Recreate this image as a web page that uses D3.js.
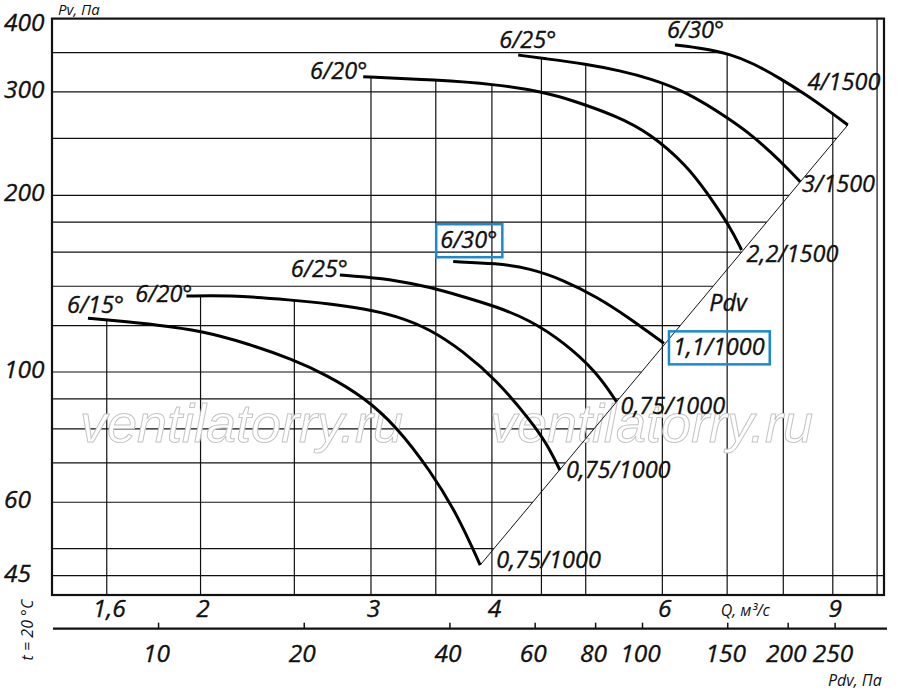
<!DOCTYPE html>
<html><head><meta charset="utf-8">
<script src="https://cdn.jsdelivr.net/npm/d3@7"></script>
<style>
html,body{margin:0;padding:0;background:#fff;}
svg{display:block;}
text{font-family:"Open Sans",sans-serif;font-style:italic;fill:#111;}
text.lbl{stroke:#111;stroke-width:0.35px;}
</style></head><body>
<svg id="chart" width="900" height="694"></svg>
<script>
// ---------- data ----------
const qDomain = [1.4046, 10.166];          // Q, m3/s (log axis)
const pDomain = [41.7, 400];               // Pv, Pa (log axis)
const yTickValues = [400, 300, 200, 100, 60, 45];
const yGridValues = [45, 50, 60, 70, 80, 90, 100, 120, 140, 160, 180, 200, 250, 300, 350];
const qTickValues = [1.6, 2, 3, 4, 6, 9];
const qGridValues = [1.6, 2, 2.5, 3, 3.5, 4, 4.5, 5, 6, 7, 8, 9, 10];
const pdvTickValues = [10, 20, 40, 60, 80, 100, 150, 200, 250];
const pdvCoef = 3.06;                      // Pdv = k * Q^2 for the lower Pdv axis

// 1000 rpm curves
const q615 = [1.53, 1.605, 1.815, 1.997, 2.231, 2.493, 2.70, 2.945, 3.19, 3.45, 3.68, 3.89];
const p615 = [123.5, 122.6, 120.2, 117.6, 112.0, 105.0, 98.8, 90.8, 80.7, 68.1, 57.4, 46.9];
const q620a = [1.934, 2.127, 2.493, 2.72, 2.945, 3.19, 3.45, 3.736, 4.045, 4.378, 4.556, 4.702];
const p620a = [134.7, 135.3, 132.6, 130.6, 128.3, 124.6, 118.4, 108.5, 96.8, 82.9, 75.6, 68.1];
const q625a = [2.786, 2.945, 3.19, 3.45, 3.736, 4.045, 4.378, 4.74, 5.13, 5.38];
const p625a = [146.3, 145.3, 143.2, 139.6, 134.4, 129.2, 122.6, 112.6, 100.1, 89.0];
const q630a = [3.648, 4.045, 4.378, 4.74, 5.13, 5.554, 5.785, 6.023];
const p630a = [154.2, 153.2, 150.2, 143.5, 134.4, 123.4, 117.4, 111.9];
// 1500 rpm curves
const q620b = [2.945, 3.507, 4.012, 4.519, 4.869, 5.38, 5.826, 6.357, 6.667, 7.048, 7.245];
const p620b = [318.5, 314.4, 309.5, 300.2, 289.5, 273.0, 255.1, 225.0, 202.5, 176.8, 161.4];
const q625b = [4.258, 4.519, 5.011, 5.425, 5.826, 6.357, 7.048, 7.448, 7.751, 8.066, 8.326];
const p625b = [346.7, 342.2, 334.6, 326.1, 316.4, 300.2, 269.5, 252.0, 237.5, 223.0, 211.0];
const q630b = [6.183, 6.613, 7.048, 7.448, 7.939, 8.457, 8.941, 9.327];
const p630b = [360.6, 355.9, 348.1, 335.7, 316.4, 296.4, 277.6, 263.5];

const angleLabels = ["6/15°", "6/20°", "6/25°", "6/30°", "6/20°", "6/25°", "6/30°"];
const powerLabels = ["0,75/1000", "0,75/1000", "0,75/1000", "1,1/1000", "2,2/1500", "3/1500", "4/1500"];

// Pdv (system) line end points
const pdvLineQ = [3.89, 9.327];
const pdvLineP = [46.9, 263.5];

// ---------- layout / styles (not data) ----------
const startLabelLayout = [
  {anchor: "start", dx: -21, dy: -5},
  {anchor: "end", dx: 6, dy: 6},
  {anchor: "end", dx: 8, dy: 2},
  {anchor: "start", dx: -13, dy: -13.4, boxed: true},
  {anchor: "end", dx: 4, dy: 2},
  {anchor: "start", dx: -19, dy: -6.7},
  {anchor: "start", dx: -8, dy: -7.3}
];
const endLabelLayout = [
  {dx: 16, dy: 3}, {dx: 6, dy: 8}, {dx: 4, dy: 12}, {dx: 9, dy: 12, boxed: true},
  {dx: 5, dy: 12}, {dx: 2, dy: 10}, {dx: -40.4, dy: -35}
];
const BLUE = "#1a8ad4";

const curveQ = [q615, q620a, q625a, q630a, q620b, q625b, q630b];
const curveP = [p615, p620a, p625a, p630a, p620b, p625b, p630b];
const curves = curveQ.map((q, i) => ({q, p: curveP[i], angle: angleLabels[i], power: powerLabels[i]}));

// ---------- scales ----------
const svg = d3.select("#chart");
const x = d3.scaleLog().domain(qDomain).range([52, 884]);
const y = d3.scaleLog().domain(pDomain).range([595, 18.6]);
const xPdv = d3.scaleLog()
  .domain([pdvCoef * qDomain[0] * qDomain[0], pdvCoef * qDomain[1] * qDomain[1]])
  .range([52, 884]);
const fmt = d => String(d).replace(".", ",");

// helpers (log-log interpolation)
function interp(qs, ps, q) {
  for (let i = 0; i < qs.length - 1; i++) {
    if (q >= qs[i] && q <= qs[i + 1]) {
      const t = (Math.log(q) - Math.log(qs[i])) / (Math.log(qs[i + 1]) - Math.log(qs[i]));
      return Math.exp(Math.log(ps[i]) + t * (Math.log(ps[i + 1]) - Math.log(ps[i])));
    }
  }
  return null;
}
function cross(qs, ps, p) {
  let best = null;
  for (let i = 0; i < qs.length - 1; i++) {
    const a = ps[i], b = ps[i + 1];
    if ((p - a) * (p - b) <= 0 && a !== b) {
      const t = (Math.log(p) - Math.log(a)) / (Math.log(b) - Math.log(a));
      const q = Math.exp(Math.log(qs[i]) + t * (Math.log(qs[i + 1]) - Math.log(qs[i])));
      if (best === null || q > best) best = q;
    }
  }
  return best;
}
function envelopeP(q) {
  let best = null;
  curves.forEach(c => { const v = interp(c.q, c.p, q); if (v !== null && (best === null || v > best)) best = v; });
  return best;
}
function hEnd(p) {
  if (p < pdvLineP[0]) return x.range()[1];
  if (p <= pdvLineP[1]) return x(cross(pdvLineQ, pdvLineP, p));
  let best = null;
  curves.forEach(c => { const v = cross(c.q, c.p, p); if (v !== null && (best === null || v > best)) best = v; });
  return best === null ? x.range()[1] : x(best);
}

// ---------- grid ----------
const gGrid = svg.append("g").attr("stroke", "#111").attr("stroke-width", 1.2).attr("fill", "none");
gGrid.selectAll("line.v").data(qGridValues).join("line").attr("class", "v")
  .attr("x1", d => x(d)).attr("x2", d => x(d))
  .attr("y1", d => { const pe = envelopeP(d); return pe === null ? y(pDomain[1]) : y(pe); })
  .attr("y2", y(pDomain[0]));
gGrid.selectAll("line.h").data(yGridValues).join("line").attr("class", "h")
  .attr("x1", x.range()[0]).attr("x2", d => hEnd(d))
  .attr("y1", d => y(d)).attr("y2", d => y(d));

// ---------- watermark ----------
svg.selectAll("text.wm").data([80, 490]).join("text").attr("class", "wm")
  .attr("x", d => d).attr("y", 442)
  .style("font-family", "'Liberation Sans', Arial, sans-serif").style("font-size", "54px")
  .style("fill", "#fff").attr("stroke", "#c4c4c4").attr("stroke-width", 1)
  .text("ventilatorry.ru");

// ---------- frame ----------
svg.append("rect").attr("x", 52).attr("y", y(pDomain[1]))
  .attr("width", 884 - 52).attr("height", 595 - y(pDomain[1]))
  .attr("fill", "none").attr("stroke", "#111").attr("stroke-width", 2.2);

// ---------- Pdv diagonal ----------
svg.append("line")
  .attr("x1", x(pdvLineQ[0])).attr("y1", y(pdvLineP[0]))
  .attr("x2", x(pdvLineQ[1])).attr("y2", y(pdvLineP[1]))
  .attr("stroke", "#111").attr("stroke-width", 1);

// ---------- curves ----------
const line = d3.line().x(d => d[0]).y(d => d[1]).curve(d3.curveBasis);
svg.append("g").selectAll("path").data(curves).join("path")
  .attr("d", c => line(c.q.map((q, i) => [x(q), y(c.p[i])])))
  .attr("fill", "none").attr("stroke", "#000").attr("stroke-width", 3);

// ---------- curve labels ----------
const LBL = "23.5px";
function addLabel(px, py, txt, anchor, boxed) {
  const t = svg.append("text").attr("class", "lbl").attr("x", px).attr("y", py).attr("text-anchor", anchor)
    .style("font-size", LBL).text(txt);
  if (boxed) {
    const b = t.node().getBBox();
    svg.append("rect").attr("x", b.x - 4).attr("y", b.y + 1).attr("width", b.width + 9).attr("height", b.height + 1)
      .attr("fill", "none").attr("stroke", BLUE).attr("stroke-width", 2.5);
  }
}
curves.forEach((c, i) => {
  const sx = x(c.q[0]), sy = y(c.p[0]);
  const L = startLabelLayout[i];
  addLabel(sx + L.dx, sy + L.dy, c.angle, L.anchor, L.boxed);
  const n = c.q.length - 1;
  const ex = x(c.q[n]), ey = y(c.p[n]);
  const E = endLabelLayout[i];
  addLabel(ex + E.dx, ey + E.dy, c.power, "start", E.boxed);
});
// Pdv label beside diagonal
{
  const pLab = 132.6, qLab = cross(pdvLineQ, pdvLineP, pLab);
  svg.append("text").attr("class", "lbl").attr("x", x(qLab) + 7.7).attr("y", y(pLab) + 10.7)
    .style("font-size", LBL).text("Pdv");
}

// ---------- axes ----------
const TICK = "24.5px";
// Y tick labels
svg.append("g").selectAll("text").data(yTickValues).join("text").attr("class", "lbl")
  .attr("x", 4).attr("y", d => Math.max(y(d) + 6, 31)).style("font-size", TICK).text(d => d);
svg.append("text").attr("x", 58).attr("y", 15).style("font-size", "15px").text("Pv, Па");

// Q axis labels
const qAxis = d3.axisBottom(x).tickValues(qTickValues).tickFormat(fmt).tickSize(0).tickPadding(0);
const gq = svg.append("g").attr("transform", "translate(2,595)").call(qAxis);
gq.select(".domain").remove();
gq.selectAll("text").attr("class", "lbl").attr("dy", null).attr("y", 22).style("font-size", TICK)
  .style("font-family", "'Open Sans',sans-serif").attr("fill", "#111");
svg.append("text").attr("x", 720.7).attr("y", 616).style("font-size", "16px").text("Q, м³/с");

// Pdv axis
const pdvAxis = d3.axisBottom(xPdv).tickValues(pdvTickValues).tickFormat(d => d).tickSizeInner(-6).tickSizeOuter(0).tickPadding(0);
const gp = svg.append("g").attr("transform", "translate(0,628.7)").call(pdvAxis);
gp.select(".domain").remove();
gp.append("line").attr("x1", 53).attr("x2", 887).attr("y1", 0).attr("y2", 0).attr("stroke", "#111").attr("stroke-width", 2.3);
gp.selectAll(".tick line").attr("stroke", "#111").attr("stroke-width", 1.5);
gp.selectAll(".tick text").attr("class", "lbl").attr("dy", null).attr("y", 33).attr("x", -2).style("font-size", TICK)
  .style("font-family", "'Open Sans',sans-serif").attr("fill", "#111");
svg.append("text").attr("x", 828).attr("y", 686).style("font-size", "16px").text("Pdv, Па");

// temperature note
svg.append("text").attr("transform", "translate(33,630) rotate(-90)").attr("text-anchor", "middle")
  .style("font-size", "16px").text("t = 20 °C");
</script>
</body></html>
